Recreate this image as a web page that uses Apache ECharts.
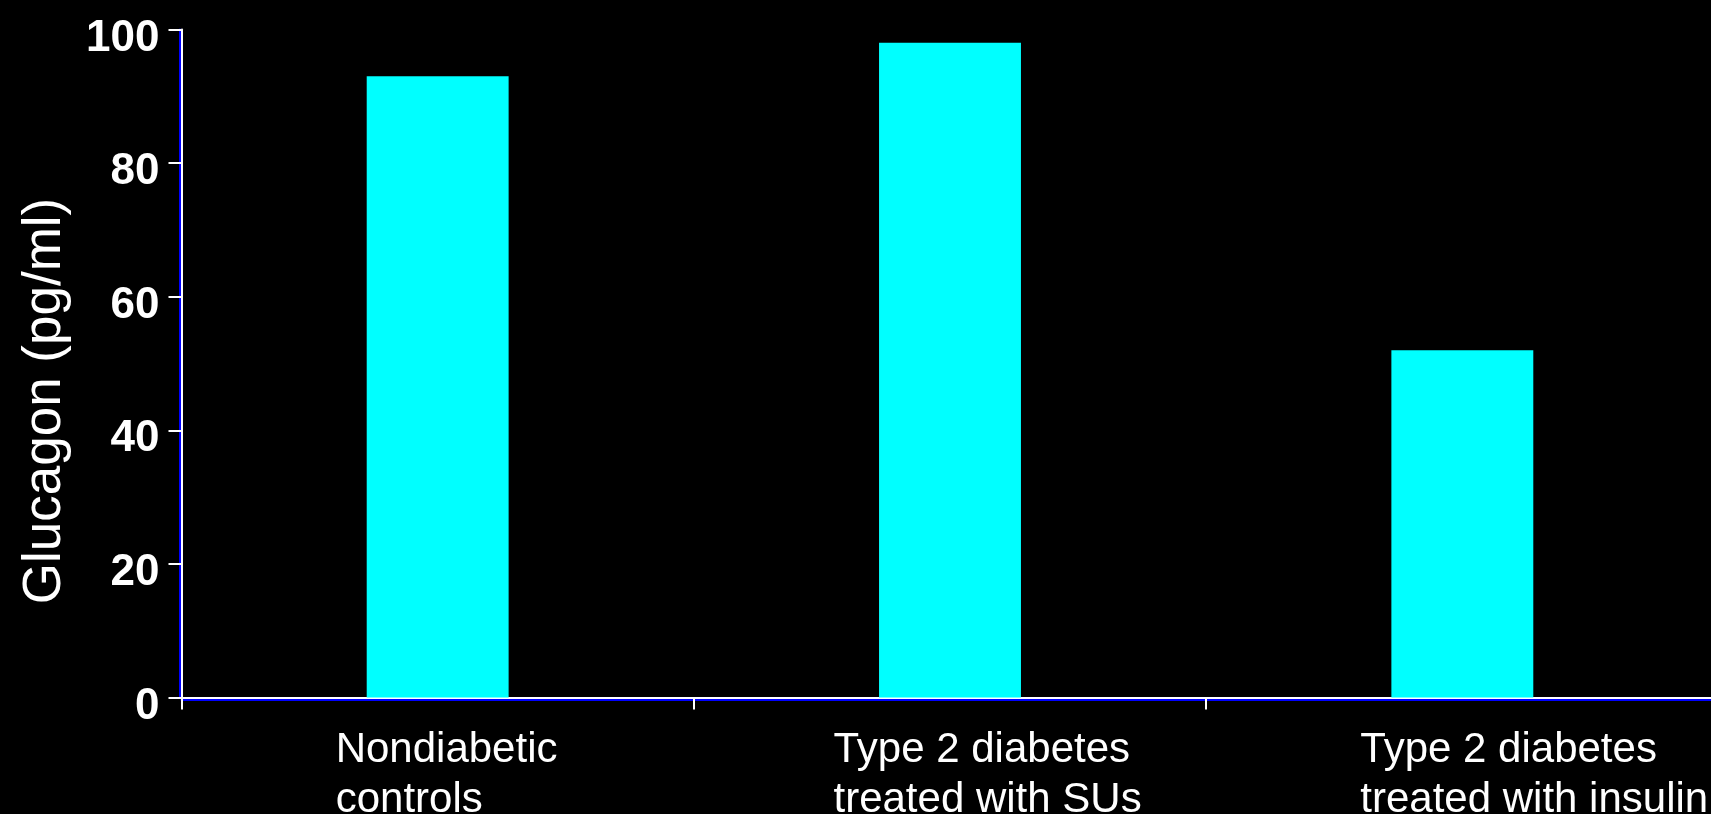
<!DOCTYPE html>
<html>
<head>
<meta charset="utf-8">
<script src="https://cdn.jsdelivr.net/npm/echarts@6/dist/echarts.min.js"></script>
<style>
  html, body { margin: 0; padding: 0; background: #000; }
  #chart { width: 1711px; height: 814px; }
</style>
</head>
<body>
<div id="chart"></div>
<script>
// Fasting glucagon by patient group
const groups = [
  ['Nondiabetic', 'controls'],
  ['Type 2 diabetes', 'treated with SUs'],
  ['Type 2 diabetes', 'treated with insulin']
];
const glucagon = [93, 98, 52];
const yTicks = [0, 20, 40, 60, 80, 100];

// Width of the left-aligned label block under each category
const labelBlockWidths = [204, 233, 204];

const FONT = '"Liberation Sans", Arial, sans-serif';

const rich = {};
labelBlockWidths.forEach((w, i) => {
  rich['c' + i] = {
    width: w,
    align: 'left',
    color: '#ffffff',
    fontFamily: FONT,
    fontSize: 42,
    lineHeight: 50
  };
});

const chart = echarts.init(document.getElementById('chart'), null, { renderer: 'canvas' });

chart.setOption({
  backgroundColor: '#000000',
  animation: false,
  // the plot runs past the right edge of the canvas
  grid: { left: 181.5, right: -7.5, top: 29.5, bottom: 116.5, outerBoundsMode: 'none', containLabel: false },
  xAxis: {
    type: 'category',
    data: groups.map(g => g.join('\n')),
    boundaryGap: true,
    axisLine: {
      show: true,
      lineStyle: { color: '#ffffff', width: 2, shadowColor: '#0000ff', shadowOffsetY: 2, shadowBlur: 0 }
    },
    axisTick: {
      show: true,
      length: 12,
      lineStyle: { color: '#ffffff', width: 2 }
    },
    axisLabel: {
      interval: 0,
      margin: 28,
      align: 'center',
      formatter: (value, index) =>
        groups[index].map(line => '{c' + index + '|' + line + '}').join('\n'),
      rich: rich
    },
    splitLine: { show: false }
  },
  yAxis: {
    type: 'value',
    min: yTicks[0],
    max: yTicks[yTicks.length - 1],
    interval: yTicks[1] - yTicks[0],
    name: 'Glucagon (pg/ml)',
    nameLocation: 'middle',
    nameGap: 110,
    nameTextStyle: {
      color: '#ffffff',
      fontFamily: FONT,
      fontSize: 53,
      lineHeight: 53,
      padding: [0, 75, 0, 0]
    },
    axisLine: {
      show: true,
      lineStyle: { color: '#ffffff', width: 2, shadowColor: '#0000ff', shadowOffsetX: -2, shadowBlur: 0 }
    },
    axisTick: {
      show: true,
      length: 13,
      lineStyle: { color: '#ffffff', width: 2 }
    },
    axisLabel: {
      margin: 22,
      color: '#ffffff',
      fontFamily: FONT,
      fontWeight: 'bold',
      fontSize: 44,
      verticalAlign: 'top',
      lineHeight: 18
    },
    splitLine: { show: false }
  },
  series: [{
    type: 'bar',
    data: glucagon,
    barWidth: '27.7%',
    itemStyle: { color: '#00ffff' }
  }]
});
</script>
</body>
</html>
